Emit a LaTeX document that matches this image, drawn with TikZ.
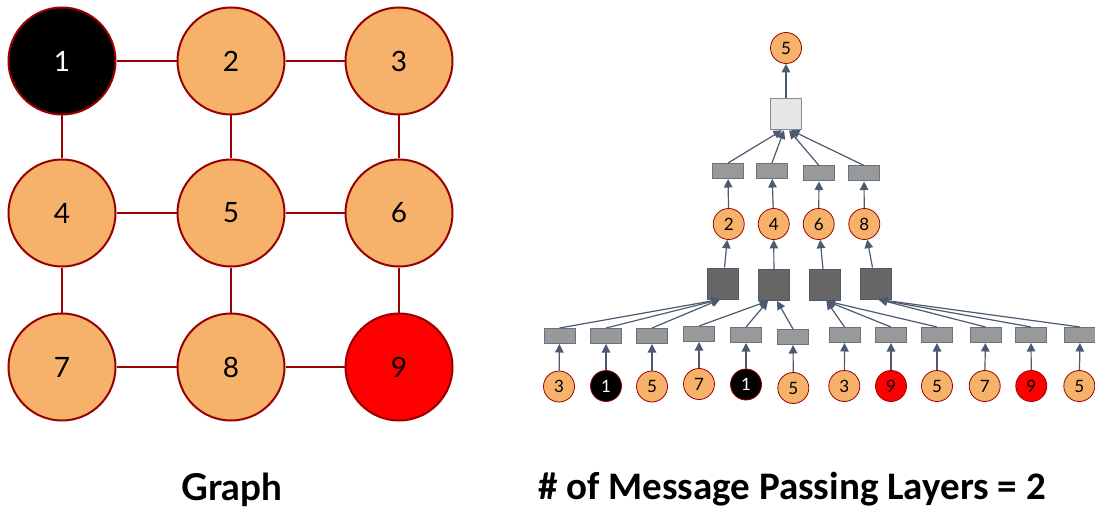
\documentclass[tikz,border=0pt]{standalone}
\usepackage{fontspec}
\usepackage{xcolor}
\setmainfont{Lato}
\newfontfamily\capfont{Carlito}
\usetikzlibrary{shapes,arrows.meta,positioning}

\definecolor{nodeorange}{HTML}{F6B26B}
\definecolor{nodered}{HTML}{FF0000}
\definecolor{rimred}{HTML}{990000}
\definecolor{msggray}{HTML}{999999}
\definecolor{agggray}{HTML}{666666}
\definecolor{rootgray}{HTML}{E6E6E6}
\definecolor{slate}{HTML}{4B5A6E}

\tikzset{
  bignode/.style={circle, draw=rimred, line width=2pt, fill=nodeorange, minimum size=107pt, inner sep=0pt, font=\fontsize{28}{30}\selectfont},
  leafnode/.style={circle, draw=rimred, line width=0.8pt, fill=nodeorange, minimum size=31pt, inner sep=0pt, font=\fontsize{17}{18}\selectfont},
  blacknode/.style={fill=black, text=white},
  rednode/.style={fill=nodered},
  msgbox/.style={rectangle, draw=slate!85, line width=1pt, fill=msggray, minimum width=31pt, minimum height=15pt, inner sep=0pt},
  aggbox/.style={rectangle, draw=slate, line width=1pt, fill=agggray, minimum size=31pt, inner sep=0pt},
  rootbox/.style={rectangle, draw=slate!70, line width=1.5pt, fill=rootgray, minimum size=31pt, inner sep=0pt},
  gedge/.style={draw=rimred, line width=2pt},
  msg/.style={draw=slate, line width=1.2pt, -{Triangle[length=8.5pt,width=8.5pt]}}
}

\begin{document}
\begin{tikzpicture}[x=1pt,y=-1pt]
    \useasboundingbox (0,0) rectangle (1095,513);

    % Graph
    \node [bignode, blacknode] (g1) at (62,61) {1};
    \node [bignode] (g2) at (231,61) {2};
    \node [bignode] (g3) at (399,61) {3};
    \node [bignode] (g4) at (62,213) {4};
    \node [bignode] (g5) at (231,213) {5};
    \node [bignode] (g6) at (399,213) {6};
    \node [bignode] (g7) at (62,367) {7};
    \node [bignode] (g8) at (231,367) {8};
    \node [bignode, rednode] (g9) at (399,367) {9};
    \draw [gedge] (g1) -- (g2);
    \draw [gedge] (g2) -- (g3);
    \draw [gedge] (g4) -- (g5);
    \draw [gedge] (g5) -- (g6);
    \draw [gedge] (g7) -- (g8);
    \draw [gedge] (g8) -- (g9);
    \draw [gedge] (g1) -- (g4);
    \draw [gedge] (g4) -- (g7);
    \draw [gedge] (g2) -- (g5);
    \draw [gedge] (g5) -- (g8);
    \draw [gedge] (g3) -- (g6);
    \draw [gedge] (g6) -- (g9);
    \node [font=\bfseries\fontsize{37}{40}\selectfont, anchor=base] (graphcap) at (232,500) {Graph};

    % Target node and its aggregation
    \node [leafnode] (root) at (786,48) {5};
    \node [rootbox] (agg) at (786,114) {};
    \draw [msg] (agg) -- (root);

    % Layer 2 messages
    \node [msgbox] (m1) at (728,171) {};
    \node [msgbox] (m2) at (772,171) {};
    \node [msgbox] (m3) at (819,173.5) {};
    \node [msgbox] (m4) at (864,173.5) {};
    \draw [msg] (m1.north) -- ([xshift=-4pt]agg.south);
    \draw [msg] (m2.north) -- ([xshift=-2pt]agg.south);
    \draw [msg] (m3.north) -- ([xshift=3pt]agg.south);
    \draw [msg] (m4.north) -- ([xshift=5pt]agg.south);

    % Neighbours of 5
    \node [leafnode] (h2) at (728.7,224) {2};
    \node [leafnode] (h4) at (773.7,224) {4};
    \node [leafnode] (h6) at (818.7,224) {6};
    \node [leafnode] (h8) at (864.3,224) {8};
    \draw [msg] (h2) -- (m1);
    \draw [msg] (h4) -- (m2);
    \draw [msg] (h6) -- (m3);
    \draw [msg] (h8) -- (m4);

    % Layer 1 aggregations
    \node [aggbox] (a2) at (723,283.5) {};
    \node [aggbox] (a4) at (774,285) {};
    \node [aggbox] (a6) at (824.5,285) {};
    \node [aggbox] (a8) at (875.5,283.5) {};
    \draw [msg] (a2) -- (h2);
    \draw [msg] (a4) -- (h4);
    \draw [msg] (a6) -- (h6);
    \draw [msg] (a8) -- (h8);

    % Layer 1 messages
    \node [msgbox] (b1) at (559.5,336) {};
    \node [msgbox] (b2) at (606,336) {};
    \node [msgbox] (b3) at (652,336) {};
    \node [msgbox] (b4) at (699,334) {};
    \node [msgbox] (b5) at (746,335) {};
    \node [msgbox] (b6) at (793,337) {};
    \node [msgbox] (b7) at (844.5,335) {};
    \node [msgbox] (b8) at (891,335) {};
    \node [msgbox] (b9) at (937,335) {};
    \node [msgbox] (b10) at (985.5,335) {};
    \node [msgbox] (b11) at (1031,335) {};
    \node [msgbox] (b12) at (1080,335) {};
    \draw [msg] (b1.north) -- ([xshift=-3pt]a2.south);
    \draw [msg] (b2.north) -- ([xshift=-3pt]a2.south);
    \draw [msg] (b3.north) -- ([xshift=-3pt]a2.south);
    \draw [msg] (b4.north) -- ([xshift=-6pt]a4.south);
    \draw [msg] (b5.north) -- ([xshift=-6pt]a4.south);
    \draw [msg] (b6.north) -- ([xshift=3pt]a4.south);
    \draw [msg] (b7.north) -- ([xshift=2pt]a6.south);
    \draw [msg] (b8.north) -- ([xshift=2pt]a6.south);
    \draw [msg] (b9.north) -- ([xshift=2pt]a6.south);
    \draw [msg] (b10.north) -- ([xshift=3pt]a8.south);
    \draw [msg] (b11.north) -- ([xshift=3pt]a8.south);
    \draw [msg] (b12.north) -- ([xshift=3pt]a8.south);

    % Input nodes
    \node [leafnode] (l1) at (559,386.5) {3};
    \node [leafnode, blacknode] (l2) at (606,386) {1};
    \node [leafnode] (l3) at (652,386.5) {5};
    \node [leafnode] (l4) at (699,384) {7};
    \node [leafnode, blacknode] (l5) at (746,384.5) {1};
    \node [leafnode] (l6) at (793.3,388) {5};
    \node [leafnode] (l7) at (844.3,386) {3};
    \node [leafnode, rednode] (l8) at (891,386) {9};
    \node [leafnode] (l9) at (937,386) {5};
    \node [leafnode] (l10) at (984.7,386) {7};
    \node [leafnode, rednode] (l11) at (1031.3,386) {9};
    \node [leafnode] (l12) at (1079.3,386) {5};
    \draw [msg] (l1) -- (b1);
    \draw [msg] (l2) -- (b2);
    \draw [msg] (l3) -- (b3);
    \draw [msg] (l4) -- (b4);
    \draw [msg] (l5) -- (b5);
    \draw [msg] (l6) -- (b6);
    \draw [msg] (l7) -- (b7);
    \draw [msg] (l8) -- (b8);
    \draw [msg] (l9) -- (b9);
    \draw [msg] (l10) -- (b10);
    \draw [msg] (l11) -- (b11);
    \draw [msg] (l12) -- (b12);

    \node [font=\capfont\bfseries\fontsize{39}{41}\selectfont, anchor=base] (layercap) at (792,499) {\# of Message Passing Layers = 2};
\end{tikzpicture}
\end{document}
